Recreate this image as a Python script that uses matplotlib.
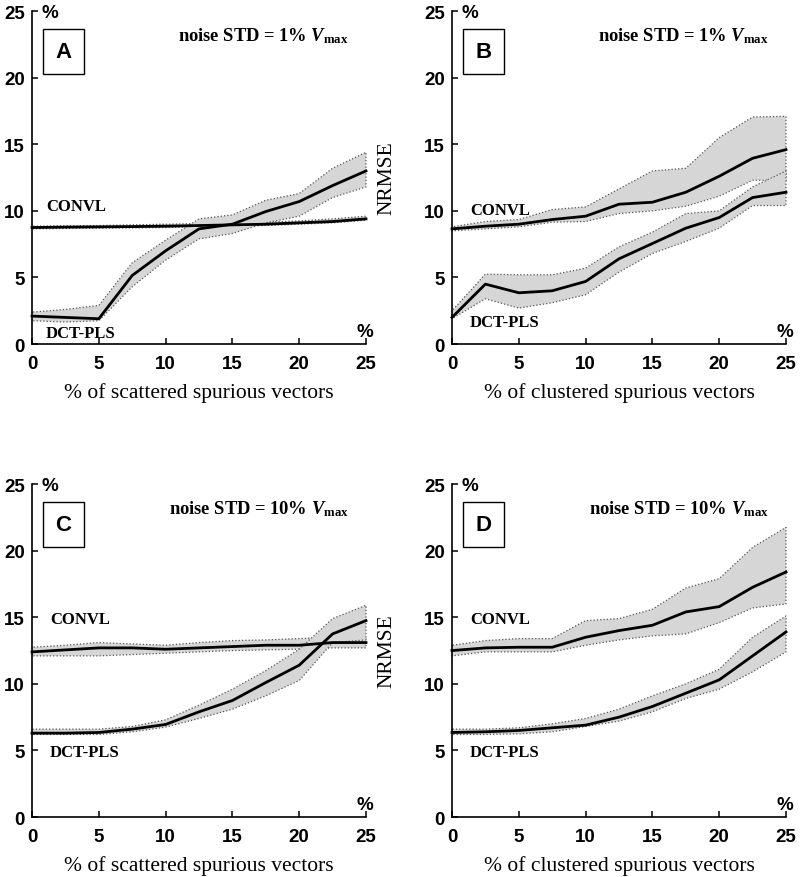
import matplotlib
matplotlib.use("Agg")
import matplotlib.pyplot as plt

plt.rcParams['mathtext.fontset'] = 'custom'
plt.rcParams['mathtext.rm'] = 'Liberation Serif:bold'
plt.rcParams['mathtext.it'] = 'Liberation Serif:italic:bold'
plt.rcParams['mathtext.bf'] = 'Liberation Serif:bold'

x_pct = [0, 2.5, 5, 7.5, 10, 12.5, 15, 17.5, 20, 22.5, 25]

# Panel A: scattered, noise 1%
a_convl_mean = [8.75, 8.78, 8.8, 8.82, 8.85, 8.9, 8.95, 9.0, 9.1, 9.2, 9.4]
a_convl_low = [8.65, 8.68, 8.7, 8.72, 8.75, 8.8, 8.85, 8.9, 9.0, 9.1, 9.3]
a_convl_high = [8.85, 8.88, 8.9, 8.95, 9.0, 9.05, 9.1, 9.15, 9.25, 9.4, 9.6]
a_dct_mean = [2.1, 2.0, 1.9, 5.15, 7.0, 8.65, 9.0, 9.95, 10.7, 11.9, 13.0]
a_dct_low = [1.75, 1.65, 1.75, 4.3, 6.3, 7.9, 8.3, 9.1, 9.6, 11.0, 11.8]
a_dct_high = [2.4, 2.6, 2.9, 6.1, 7.8, 9.4, 9.7, 10.8, 11.3, 13.2, 14.4]

# Panel B: clustered, noise 1%
b_convl_mean = [8.65, 8.85, 9.0, 9.35, 9.6, 10.5, 10.65, 11.4, 12.6, 13.95, 14.6]
b_convl_low = [8.5, 8.65, 8.8, 9.15, 9.2, 9.8, 10.0, 10.35, 11.1, 12.3, 12.3]
b_convl_high = [8.8, 9.2, 9.35, 10.1, 10.3, 11.65, 13.0, 13.2, 15.5, 17.05, 17.1]
b_dct_mean = [2.0, 4.5, 3.85, 4.0, 4.7, 6.4, 7.55, 8.7, 9.5, 11.0, 11.4]
b_dct_low = [1.9, 3.4, 2.7, 3.1, 3.7, 5.4, 6.8, 7.7, 8.7, 10.4, 10.4]
b_dct_high = [2.5, 5.25, 5.2, 5.2, 5.7, 7.3, 8.4, 9.8, 10.0, 11.8, 13.0]

# Panel C: scattered, noise 10%
c_convl_mean = [12.4, 12.55, 12.7, 12.7, 12.6, 12.7, 12.8, 12.9, 12.9, 13.1, 13.1]
c_convl_low = [12.1, 12.1, 12.1, 12.2, 12.3, 12.4, 12.5, 12.55, 12.6, 12.7, 12.7]
c_convl_high = [12.75, 12.9, 13.1, 13.0, 12.9, 13.1, 13.25, 13.3, 13.4, 13.5, 13.55]
c_dct_mean = [6.3, 6.3, 6.35, 6.6, 6.95, 7.9, 8.75, 10.1, 11.4, 13.75, 14.75]
c_dct_low = [6.2, 6.2, 6.2, 6.4, 6.75, 7.4, 8.1, 9.1, 10.25, 13.1, 13.3]
c_dct_high = [6.6, 6.6, 6.6, 6.8, 7.3, 8.4, 9.6, 11.0, 12.6, 14.9, 15.9]

# Panel D: clustered, noise 10%
d_convl_mean = [12.5, 12.7, 12.75, 12.75, 13.5, 14.0, 14.4, 15.4, 15.8, 17.25, 18.4]
d_convl_low = [12.1, 12.4, 12.4, 12.4, 12.9, 13.3, 13.6, 13.75, 14.6, 15.7, 16.0]
d_convl_high = [12.9, 13.25, 13.4, 13.4, 14.75, 14.9, 15.6, 17.2, 17.9, 20.25, 21.75]
d_dct_mean = [6.35, 6.4, 6.5, 6.7, 6.9, 7.5, 8.3, 9.3, 10.3, 12.1, 13.9]
d_dct_low = [6.2, 6.2, 6.25, 6.4, 6.8, 7.2, 7.9, 8.9, 9.6, 10.9, 12.4]
d_dct_high = [6.6, 6.6, 6.7, 7.0, 7.4, 8.1, 9.1, 10.0, 11.1, 13.5, 15.1]

panel_letters = ['A', 'B', 'C', 'D']
noise_labels = ['noise STD = 1% $V_{\\mathrm{max}}$', 'noise STD = 1% $V_{\\mathrm{max}}$',
                'noise STD = 10% $V_{\\mathrm{max}}$', 'noise STD = 10% $V_{\\mathrm{max}}$']
xlabels = ['% of scattered spurious vectors', '% of clustered spurious vectors',
           '% of scattered spurious vectors', '% of clustered spurious vectors']
ticks = [0, 5, 10, 15, 20, 25]
tick_labels = ['0', '5', '10', '15', '20', '25']
method_names = ['CONVL', 'DCT-PLS']
convl_label_y = [10.4, 10.1, 14.9, 14.9]
dct_label_y = [0.8, 1.65, 4.9, 4.9]

panels = [
    (a_convl_mean, a_convl_low, a_convl_high, a_dct_mean, a_dct_low, a_dct_high),
    (b_convl_mean, b_convl_low, b_convl_high, b_dct_mean, b_dct_low, b_dct_high),
    (c_convl_mean, c_convl_low, c_convl_high, c_dct_mean, c_dct_low, c_dct_high),
    (d_convl_mean, d_convl_low, d_convl_high, d_dct_mean, d_dct_low, d_dct_high),
]

fig = plt.figure(figsize=(8, 8.78), dpi=100)
W, H = 0.4175, 0.3792
positions = [(0.040, 0.607), (0.565, 0.607), (0.040, 0.0683), (0.565, 0.0683)]

SANS = 'Liberation Sans'
SERIF = 'Liberation Serif'
band_face = '#d6d6d6'
band_edge = '#555555'

for i, ax_pos in enumerate(positions):
    ax = fig.add_axes([ax_pos[0], ax_pos[1], W, H])
    cm, cl, ch, dm, dl, dh = panels[i]
    for lo, hi in [(cl, ch), (dl, dh)]:
        ax.fill_between(x_pct, lo, hi, facecolor=band_face, edgecolor=band_edge,
                        linestyle=':', linewidth=0.9, zorder=1, clip_on=False)
    ax.plot(x_pct, cm, color='black', lw=2.0, zorder=3, clip_on=False)
    ax.plot(x_pct, dm, color='black', lw=2.0, zorder=3, clip_on=False)

    ax.set_xlim(0, 25)
    ax.set_ylim(0, 25)
    for s in ['top', 'right']:
        ax.spines[s].set_visible(False)
    for s in ['left', 'bottom']:
        ax.spines[s].set_linewidth(1.2)
    ax.set_xticks(ticks)
    ax.set_yticks(ticks)
    ax.set_xticklabels(tick_labels, fontfamily=SANS, fontweight='bold', fontsize=13.5)
    ax.set_yticklabels(tick_labels, fontfamily=SANS, fontweight='bold', fontsize=13.5)
    ax.tick_params(direction='in', length=4, width=1.1, pad=5)
    ax.tick_params(axis='x', pad=8)

    ax.set_xlabel(xlabels[i], fontfamily=SERIF, fontsize=15.5, labelpad=7)
    if i in (1, 3):
        ax.set_ylabel('NRMSE', fontfamily=SERIF, fontsize=15.5)
        ax.yaxis.set_label_coords(-0.165, 0.5)

    ax.text(2.35, 21.95, panel_letters[i], fontfamily=SANS, fontweight='bold', fontsize=16,
            ha='center', va='center',
            bbox=dict(boxstyle='square,pad=0.55', facecolor='white', edgecolor='black', linewidth=1.0))
    ax.text(23.7, 23.2, noise_labels[i], fontfamily=SERIF, fontweight='bold', fontsize=13.3,
            ha='right', va='center')
    ax.text(1.35, 24.9, '%', fontfamily=SANS, fontweight='bold', fontsize=13.5,
            ha='center', va='center', clip_on=False)
    ax.text(24.9, 0.95, '%', fontfamily=SANS, fontweight='bold', fontsize=13.5,
            ha='center', va='center', clip_on=False)
    ax.text(1.05 if i in (0,) else 1.35, convl_label_y[i], method_names[0], fontfamily=SERIF,
            fontweight='bold', fontsize=12, ha='left', va='center')
    ax.text(1.05 if i in (0,) else 1.35, dct_label_y[i], method_names[1], fontfamily=SERIF,
            fontweight='bold', fontsize=12, ha='left', va='center')

fig.savefig('out.png', dpi=100)
